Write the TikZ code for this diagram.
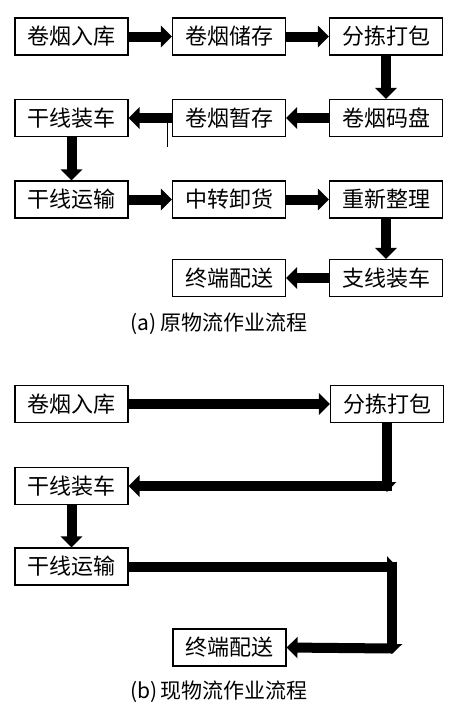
\documentclass[tikz,border=0pt]{standalone}
\usepackage{fontspec}
\setmainfont{Noto Sans CJK SC}
\usetikzlibrary{arrows.meta}
\tikzset{
  box/.style={draw=black, line width=1.1pt, minimum width=113pt, minimum height=37pt, inner sep=0pt, font=\fontsize{22}{24}\selectfont},
  arr/.style={line width=10pt, -{Triangle[length=11pt,width=21pt]}},
  captext/.style={font=\fontsize{21}{23}\selectfont},
  thinline/.style={line width=0.8pt}
}
\begin{document}
\begin{tikzpicture}[x=1pt,y=-1pt]
\useasboundingbox[fill=white] (0,0) rectangle (461,713);
% (a)
\node[box] (a1) at (71.5,36.5) {卷烟入库};
\node[box] (a2) at (229,36.5) {卷烟储存};
\node[box] (a3) at (386,36.5) {分拣打包};
\node[box] (a4) at (71.5,118) {干线装车};
\node[box] (a5) at (229,118) {卷烟暂存};
\node[box] (a6) at (386,118) {卷烟码盘};
\node[box] (a7) at (71.5,199.5) {干线运输};
\node[box] (a8) at (229,199.5) {中转卸货};
\node[box] (a9) at (386,199.5) {重新整理};
\node[box] (a10) at (229,278) {终端配送};
\node[box] (a11) at (386,278) {支线装车};
\node[captext] (capa) at (219,324) {(a)\,原物流作业流程};
\draw[arr] (a1.east) -- (a2.west);
\draw[arr] (a2.east) -- (a3.west);
\draw[arr] (a3.south) -- (a6.north);
\draw[arr] (a6.west) -- (a5.east);
\draw[arr] (a5.west) -- (a4.east);
\draw[arr] (a4.south) -- (a7.north);
\draw[arr] (a7.east) -- (a8.west);
\draw[arr] (a8.east) -- (a9.west);
\draw[arr] (a9.south) -- (a11.north);
\draw[arr] (a11.west) -- (a10.east);
\coordinate (t1) at (167,122);
\coordinate (t2) at (167,147);
\draw[thinline] (t1) -- (t2);
% (b)
\node[box] (b1) at (71.5,404) {卷烟入库};
\node[box] (b2) at (387,404) {分拣打包};
\node[box] (b3) at (71.5,486) {干线装车};
\node[box] (b4) at (71.5,566.5) {干线运输};
\node[box] (b5) at (229.5,647.5) {终端配送};
\node[captext] (capb) at (219,692) {(b)\,现物流作业流程};
\draw[arr] (b1.east) -- (b2.west);
\coordinate (e1) at (387,492);
\coordinate (e2) at (392,486);
\draw[arr, -{Triangle[length=10pt,width=18pt]}] (b2.south) -- (e1);
\draw[arr] (e2) -- (b3.east);
\draw[arr] (b3.south) -- (b4.north);
\coordinate (e3) at (397,566.5);
\coordinate (e4) at (392,561.5);
\coordinate (e5) at (392,654);
\coordinate (e6) at (392,648.5);
\draw[arr, -{Triangle[length=10pt,width=20pt]}] (b4.east) -- (e3);
\draw[arr, -{Triangle[length=10pt,width=20pt]}] (e4) -- (e5);
\draw[arr] (e6) -- (b5.east);
\end{tikzpicture}
\end{document}
